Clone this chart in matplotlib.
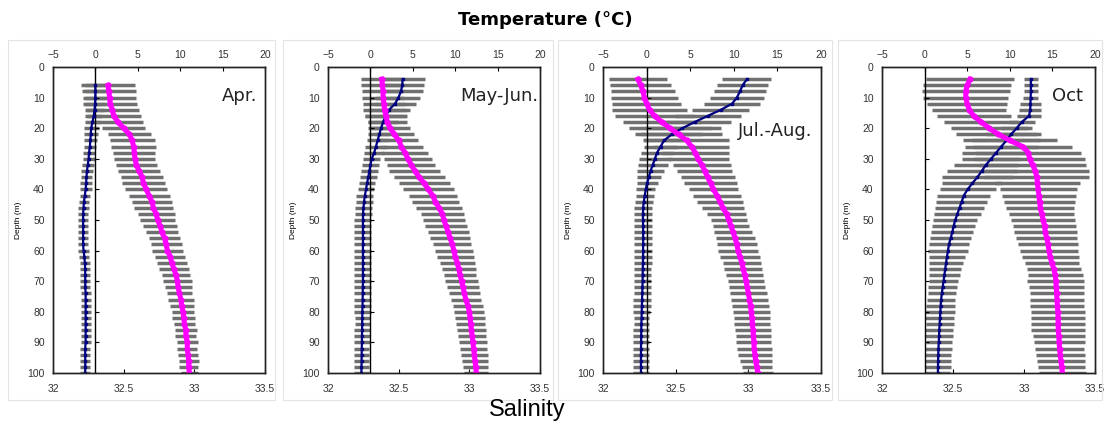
import numpy as np
import matplotlib.pyplot as plt
from matplotlib.patches import Rectangle

nan = np.nan

# Depth (m), every 2 m
depth = list(range(4, 101, 2))

months = ['Apr.', 'May-Jun.', 'Jul.-Aug.', 'Oct']

# Temperature mean / std (deg C)
temp_apr = [nan, 0.0, 0.0, 0.0, -0.05, -0.1, -0.2, -0.35, -0.5, -0.55, -0.6, -0.65, -0.75,
            -0.8, -0.9, -1.0, -1.05, -1.1, -1.15, -1.25, -1.35, -1.4, -1.45, -1.45, -1.45,
            -1.45, -1.45, -1.45, -1.4, -1.3, -1.25, -1.2, -1.2, -1.2, -1.2, -1.15, -1.15,
            -1.15, -1.15, -1.15, -1.15, -1.15, -1.15, -1.15, -1.2, -1.2, -1.2, -1.2, -1.2]
tsd_apr = [nan, 1.2, 1.2, 1.2, 1.2, 1.1, 1.0, 0.9, 0.9, 0.8, 0.8, 0.7, 0.7, 0.7, 0.7, 0.7,
           0.7, 0.7, 0.7, 0.6, 0.6, 0.6, 0.6, 0.6, 0.6, 0.6, 0.6, 0.6, 0.6, 0.6, 0.6, 0.6,
           0.6, 0.6, 0.6, 0.6, 0.6, 0.6, 0.6, 0.6, 0.6, 0.6, 0.6, 0.6, 0.6, 0.6, 0.6, 0.6, 0.6]

temp_may = [3.8, 3.75, 3.6, 3.3, 2.9, 2.2, 1.8, 1.5, 1.25, 1.05, 0.85, 0.65, 0.45, 0.15,
            0.0, -0.12, -0.25, -0.4, -0.52, -0.65, -0.75, -0.82, -0.87, -0.88, -0.88,
            -0.88, -0.88, -0.88, -0.88, -0.88, -0.88, -0.88, -0.88, -0.88, -0.9, -0.9,
            -0.92, -0.93, -0.95, -0.96, -0.97, -0.98, -1.0, -1.0, -1.02, -1.03, -1.04,
            -1.05, -1.06]
tsd_may = [2.6, 2.6, 2.6, 2.6, 2.5, 2.5, 2.4, 1.8, 1.5, 1.3, 1.3, 1.3, 1.2, 1.0, 1.0,
           1.0, 1.0, 1.0, 1.0, 1.0, 1.0, 1.0, 1.0, 1.0, 1.0, 1.0, 1.0, 1.0, 1.0, 1.0,
           1.0, 1.0, 1.0, 1.0, 1.0, 1.0, 1.0, 1.0, 1.0, 0.9, 0.9, 0.9, 0.9, 0.9, 0.9,
           0.9, 0.9, 0.9, 0.9]

temp_jul = [11.5, 11.0, 10.7, 10.35, 9.8, 8.5, 7.0, 5.5, 4.1, 2.9, 2.0, 1.6, 1.2, 0.95,
            0.7, 0.45, 0.25, 0.05, -0.1, -0.22, -0.32, -0.4, -0.42, -0.42, -0.4, -0.4,
            -0.4, -0.4, -0.4, -0.41, -0.42, -0.44, -0.45, -0.46, -0.48, -0.5, -0.52,
            -0.54, -0.56, -0.58, -0.6, -0.61, -0.62, -0.63, -0.64, -0.65, -0.65, -0.65,
            -0.65]
tsd_jul = [2.8, 2.9, 3.0, 3.1, 3.2, 3.3, 3.8, 4.2, 4.4, 3.5, 2.4, 1.9, 1.8, 1.8, 1.7,
           1.5, 1.35, 1.2, 1.1, 1.05, 1.0, 1.0, 1.0, 1.0, 1.0, 1.0, 1.0, 1.0, 1.0, 1.0,
           1.0, 1.0, 1.0, 1.0, 1.0, 1.0, 1.0, 1.0, 1.0, 0.9, 0.9, 0.9, 0.9, 0.9, 0.9,
           0.9, 0.9, 0.9, 0.9]

temp_oct = [12.47, 12.47, 12.47, 12.45, 12.42, 12.4, 12.25, 11.4, 10.8, 10.15, 9.6, 9.0,
            8.4, 7.8, 7.2, 6.7, 6.2, 5.6, 5.05, 4.6, 4.35, 4.1, 3.85, 3.6, 3.4, 3.25,
            3.05, 2.85, 2.75, 2.62, 2.52, 2.42, 2.32, 2.22, 2.12, 2.02, 1.94, 1.88, 1.85,
            1.8, 1.76, 1.72, 1.69, 1.66, 1.63, 1.6, 1.58, 1.57, 1.56]
tsd_oct = [0.8, 0.8, 0.8, 0.9, 1.2, 1.3, 1.4, 1.5, 1.8, 3.0, 4.0, 4.3, 4.0, 3.4, 3.8, 4.1,
           4.2, 3.5, 3.3, 3.1, 3.0, 2.9, 2.75, 2.6, 2.5, 2.45, 2.4, 2.35, 2.3, 2.1, 2.0,
           1.9, 1.8, 1.75, 1.7, 1.65, 1.65, 1.7, 1.75, 1.7, 1.65, 1.65, 1.6, 1.55, 1.55,
           1.5, 1.5, 1.47, 1.47]

# Salinity mean / std
sal_apr = [nan, 32.39, 32.395, 32.40, 32.405, 32.42, 32.43, 32.46, 32.50, 32.54, 32.56,
           32.57, 32.575, 32.58, 32.59, 32.61, 32.63, 32.64, 32.66, 32.68, 32.70, 32.71,
           32.73, 32.74, 32.76, 32.77, 32.79, 32.80, 32.81, 32.83, 32.84, 32.855, 32.87,
           32.88, 32.885, 32.895, 32.905, 32.91, 32.92, 32.925, 32.93, 32.94, 32.94,
           32.95, 32.95, 32.955, 32.96, 32.96, 32.965]
ssd_apr = [nan, 0.19, 0.19, 0.19, 0.19, 0.19, 0.19, 0.18, 0.15, 0.15, 0.16, 0.16, 0.15,
           0.145, 0.145, 0.15, 0.15, 0.15, 0.15, 0.145, 0.14, 0.14, 0.13, 0.125, 0.12,
           0.115, 0.11, 0.11, 0.11, 0.105, 0.105, 0.105, 0.10, 0.10, 0.095, 0.09, 0.09,
           0.085, 0.08, 0.08, 0.077, 0.077, 0.075, 0.075, 0.07, 0.07, 0.07, 0.065, 0.06]

sal_may = [32.38, 32.385, 32.39, 32.39, 32.395, 32.40, 32.41, 32.42, 32.44, 32.47, 32.50,
           32.52, 32.545, 32.565, 32.59, 32.615, 32.645, 32.68, 32.71, 32.74, 32.76,
           32.785, 32.81, 32.82, 32.835, 32.85, 32.865, 32.88, 32.89, 32.90, 32.915,
           32.925, 32.935, 32.945, 32.955, 32.965, 32.975, 32.99, 33.0, 33.005, 33.01,
           33.015, 33.02, 33.025, 33.03, 33.035, 33.04, 33.045, 33.05]
ssd_may = [0.15, 0.15, 0.15, 0.15, 0.15, 0.15, 0.15, 0.14, 0.14, 0.14, 0.14, 0.15, 0.16,
           0.17, 0.17, 0.18, 0.18, 0.18, 0.18, 0.17, 0.165, 0.16, 0.155, 0.15, 0.15,
           0.145, 0.14, 0.135, 0.135, 0.13, 0.125, 0.12, 0.115, 0.115, 0.11, 0.11, 0.108,
           0.106, 0.105, 0.104, 0.103, 0.102, 0.1, 0.1, 0.098, 0.095, 0.09, 0.088, 0.085]

sal_jul = [32.24, 32.26, 32.275, 32.285, 32.30, 32.32, 32.355, 32.405, 32.46, 32.52,
           32.575, 32.61, 32.635, 32.655, 32.68, 32.70, 32.72, 32.74, 32.76, 32.785,
           32.805, 32.825, 32.85, 32.865, 32.88, 32.895, 32.91, 32.92, 32.93, 32.942,
           32.955, 32.965, 32.975, 32.985, 32.992, 33.0, 33.008, 33.015, 33.02, 33.024,
           33.028, 33.032, 33.035, 33.038, 33.04, 33.045, 33.05, 33.058, 33.065]
ssd_jul = [0.2, 0.21, 0.22, 0.23, 0.24, 0.26, 0.27, 0.27, 0.28, 0.3, 0.29, 0.26, 0.23,
           0.21, 0.2, 0.19, 0.185, 0.18, 0.17, 0.165, 0.155, 0.145, 0.137, 0.125, 0.125,
           0.13, 0.135, 0.137, 0.137, 0.135, 0.132, 0.13, 0.128, 0.126, 0.126, 0.126,
           0.126, 0.126, 0.126, 0.126, 0.124, 0.122, 0.12, 0.12, 0.12, 0.115, 0.11,
           0.105, 0.103]

sal_oct = [32.62, 32.60, 32.59, 32.59, 32.60, 32.615, 32.645, 32.70, 32.755, 32.82,
           32.90, 32.99, 33.03, 33.04, 33.06, 33.08, 33.09, 33.095, 33.10, 33.105, 33.11,
           33.115, 33.125, 33.135, 33.145, 33.15, 33.16, 33.17, 33.175, 33.185, 33.195,
           33.21, 33.22, 33.224, 33.227, 33.23, 33.232, 33.235, 33.238, 33.24, 33.24,
           33.242, 33.245, 33.248, 33.25, 33.255, 33.26, 33.265, 33.27]
ssd_oct = [0.31, 0.31, 0.31, 0.30, 0.28, 0.26, 0.26, 0.26, 0.27, 0.3, 0.33, 0.35, 0.37,
           0.39, 0.38, 0.38, 0.37, 0.3, 0.27, 0.26, 0.25, 0.24, 0.23, 0.225, 0.22, 0.22,
           0.215, 0.21, 0.205, 0.2, 0.19, 0.19, 0.195, 0.2, 0.195, 0.19, 0.19, 0.19, 0.19,
           0.19, 0.19, 0.19, 0.185, 0.18, 0.176, 0.172, 0.168, 0.165, 0.164]

temps = [temp_apr, temp_may, temp_jul, temp_oct]
temp_sds = [tsd_apr, tsd_may, tsd_jul, tsd_oct]
sals = [sal_apr, sal_may, sal_jul, sal_oct]
sal_sds = [ssd_apr, ssd_may, ssd_jul, ssd_oct]

temp_ticks = [-5, 0, 5, 10, 15, 20]
sal_ticks = [32, 32.5, 33, 33.5]
sal_labels = ['32', '32.5', '33', '33.5']
depth_ticks = list(range(0, 101, 10))

# Layout in pixels (figure 1106 x 426)
W, H = 1106, 426
panel_x = [(53, 265), (328, 540), (603, 821), (882, 1095)]
frame_x = [(8, 275), (283, 553), (558, 832), (838, 1102)]
top_px, bot_px = 67, 373
label_pos = [(0.962, 0.905), (0.99, 0.905), (0.959, 0.79), (0.944, 0.905)]

plt.rcParams['font.family'] = ['Liberation Sans', 'DejaVu Sans']

fig = plt.figure(figsize=(W / 100, H / 100), dpi=100)

for i in range(4):
    fx0, fx1 = frame_x[i]
    fig.patches.append(Rectangle((fx0 / W, 1 - 400 / H), (fx1 - fx0) / W, 360 / H,
                                 transform=fig.transFigure, fill=False,
                                 edgecolor='#e4e4e4', linewidth=0.8))

    x0, x1 = panel_x[i]
    ax = fig.add_axes([x0 / W, 1 - bot_px / H, (x1 - x0) / W, (bot_px - top_px) / H])
    axT = ax.twiny()

    # error bars (salinity on the bottom axis, temperature on the top axis)
    ax.errorbar(sals[i], depth, xerr=sal_sds[i], fmt='none', ecolor='#707070',
                elinewidth=2.5, capsize=0)
    axT.errorbar(temps[i], depth, xerr=temp_sds[i], fmt='none', ecolor='#707070',
                 elinewidth=2.5, capsize=0)

    # vertical axis at 0 degC with its ticks
    axT.axvline(0, color='black', linewidth=1.0)
    axT.plot([0] * len(depth_ticks), depth_ticks, ls='none', marker=1, ms=3,
             mew=0.8, color='black')

    axT.plot(temps[i], depth, color='#000080', linewidth=1.6, marker='s', ms=2.0)
    axT.plot(sals[i], depth, color='#ff00ff', linewidth=3.6, marker='o', ms=3.4,
             transform=ax.transData)

    ax.set_xlim(32, 33.5)
    axT.set_xlim(-5, 20)
    ax.set_ylim(100, 0)

    ax.set_xticks(sal_ticks)
    ax.set_xticklabels(sal_labels)
    axT.set_xticks(temp_ticks)
    ax.set_yticks(depth_ticks)
    ax.tick_params(axis='x', direction='in', length=3, pad=8, labelsize=7.5,
                   labelcolor='#333333')
    axT.tick_params(axis='x', direction='in', length=3, pad=5, labelsize=7.5,
                    labelcolor='#333333')
    ax.tick_params(axis='y', length=0, pad=6, labelsize=7.5, labelcolor='#333333')
    ax.set_ylabel('Depth (m)', fontsize=6, labelpad=4)

    for a in (ax, axT):
        for s in a.spines.values():
            s.set_linewidth(1.0)
            s.set_color('#222222')

    lx, ly = label_pos[i]
    ax.text(lx, ly, months[i], transform=ax.transAxes, ha='right', va='center',
            fontsize=13, color='#222222', family='DejaVu Sans')

fig.text(545 / W, 1 - 20 / H, 'Temperature (\u00b0C)', ha='center', va='center',
         fontsize=13, fontweight='bold', family='DejaVu Sans')
fig.text(527 / W, 1 - 410 / H, 'Salinity', ha='center', va='center', fontsize=17)

fig.savefig('out.png', dpi=100)
